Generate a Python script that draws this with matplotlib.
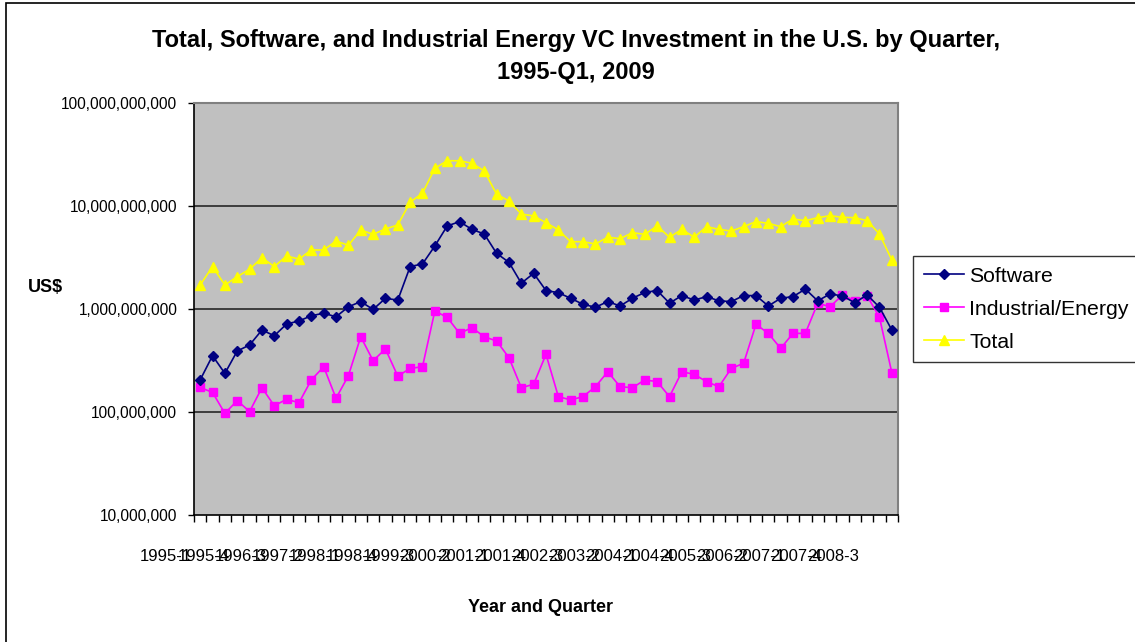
import matplotlib
matplotlib.use("Agg")
import matplotlib.pyplot as plt
import matplotlib.transforms as mtransforms
from matplotlib.patches import Rectangle
from matplotlib.ticker import FixedLocator, FuncFormatter, NullLocator

plt.rcParams["font.family"] = ["Liberation Sans", "DejaVu Sans"]

# quarterly VC investment, millions of US$ (1995-Q1 .. 2009-Q1)
software = [205, 352, 237, 391, 447, 625, 550, 715, 765, 860,
            910, 840, 1050, 1180, 990, 1270, 1220, 2580, 2740, 4090,
            6400, 7050, 5930, 5350, 3470, 2840, 1780, 2220, 1510, 1440,
            1270, 1110, 1040, 1180, 1070, 1270, 1450, 1510, 1140, 1350,
            1220, 1320, 1200, 1180, 1350, 1350, 1070, 1270, 1320, 1560,
            1200, 1400, 1340, 1150, 1370, 1040, 625]
industrial = [173, 155, 97, 129, 101, 172, 115, 133, 123, 205,
              275, 136, 225, 538, 315, 409, 223, 265, 275, 957,
              830, 580, 659, 538, 489, 337, 172, 186, 363, 141,
              131, 141, 176, 246, 176, 172, 205, 197, 141, 246,
              232, 197, 176, 265, 297, 710, 580, 415, 580, 580,
              1140, 1050, 1370, 1200, 1340, 830, 241]
total = [1710, 2580, 1710, 2060, 2430, 3150, 2580, 3270, 3050, 3740,
         3740, 4570, 4150, 5850, 5310, 5980, 6550, 10900, 13300, 23200,
         27500, 27500, 26000, 21900, 13000, 11200, 8360, 8000, 6890, 5850,
         4500, 4500, 4280, 4970, 4820, 5500, 5310, 6400, 4970, 5930,
         4970, 6300, 5930, 5710, 6300, 7050, 6790, 6300, 7480, 7200,
         7700, 8050, 7760, 7700, 7200, 5350, 2990]

# Excel shows every third category label
xlabels = ["1995-1", "1995-4", "1996-3", "1997-2", "1998-1", "1998-4",
           "1999-3", "2000-2", "2001-1", "2001-4", "2002-3", "2003-2",
           "2004-1", "2004-4", "2005-3", "2006-2", "2007-1", "2007-4",
           "2008-3"]
yticks = [1e7, 1e8, 1e9, 1e10, 1e11]

W, H = 1135, 642
fig = plt.figure(figsize=(W / 100, H / 100), dpi=100)
ax = fig.add_axes([194 / W, 1 - 515 / H, (898 - 194) / W, (515 - 103) / H])
ax.set_facecolor("#C0C0C0")

x = list(range(len(total)))
ax.plot(x, [v * 1e6 for v in software], color="#000080", lw=1.2,
        marker="D", ms=4.6, label="Software", zorder=4)
ax.plot(x, [v * 1e6 for v in industrial], color="#FF00FF", lw=1.2,
        marker="s", ms=5.6, label="Industrial/Energy", zorder=3)
ax.plot(x, [v * 1e6 for v in total], color="#FFFF00", lw=1.2,
        marker="^", ms=7, label="Total", zorder=2)

ax.set_yscale("log")
ax.set_ylim(1e7, 1e11)
ax.set_xlim(-0.5, len(total) - 0.5)
ax.yaxis.set_major_locator(FixedLocator(yticks))
ax.yaxis.set_minor_locator(NullLocator())
ax.yaxis.set_major_formatter(FuncFormatter(lambda v, p: f"{int(round(v)):,}"))
ax.tick_params(axis="y", which="major", length=4, width=1, direction="out",
               pad=8, labelsize=11.2, colors="black")
for v in yticks[1:-1]:
    ax.axhline(v, color="#333333", lw=1.3, zorder=1)

# category boundary ticks, labels drawn as text
ax.xaxis.set_major_locator(NullLocator())
ax.xaxis.set_minor_locator(FixedLocator([i - 0.5 for i in range(len(total) + 1)]))
ax.tick_params(axis="x", which="minor", length=5, width=1, direction="out",
               colors="black")
trans = mtransforms.blended_transform_factory(ax.transData, ax.transAxes)
for k, lab in enumerate(xlabels):
    ax.text(3 * k - 2.75, -0.1, lab, transform=trans, ha="center",
            va="center", fontsize=12, clip_on=False)

for side in ["left", "bottom"]:
    ax.spines[side].set_color("black")
    ax.spines[side].set_linewidth(1.2)
for side in ["right", "top"]:
    ax.spines[side].set_color("#808080")
    ax.spines[side].set_linewidth(1.5)

leg = fig.legend(loc="upper left", bbox_to_anchor=(913 / W, 1 - 256 / H),
                 fontsize=15.3, frameon=True, fancybox=False, edgecolor="black",
                 handlelength=1.9, handletextpad=0.25, labelspacing=0.66,
                 borderpad=0.5, borderaxespad=0)
leg.get_frame().set_linewidth(1.0)

fig.text(576 / W, 1 - 56 / H,
         "Total, Software, and Industrial Energy VC Investment in the U.S. by Quarter,\n1995-Q1, 2009",
         ha="center", va="center", fontsize=17, fontweight="bold",
         linespacing=1.5)
fig.text(28 / W, 1 - 287 / H, "US$", ha="left", va="center",
         fontsize=13, fontweight="bold")
fig.text(540 / W, 1 - 608 / H, "Year and Quarter", ha="center", va="center",
         fontsize=13, fontweight="bold")

fig.add_artist(Rectangle((6 / W, -0.2), 2, 1.2 - 3 / H, transform=fig.transFigure,
                         fill=False, edgecolor="black", lw=1.2))

fig.savefig("out.png", dpi=100)
